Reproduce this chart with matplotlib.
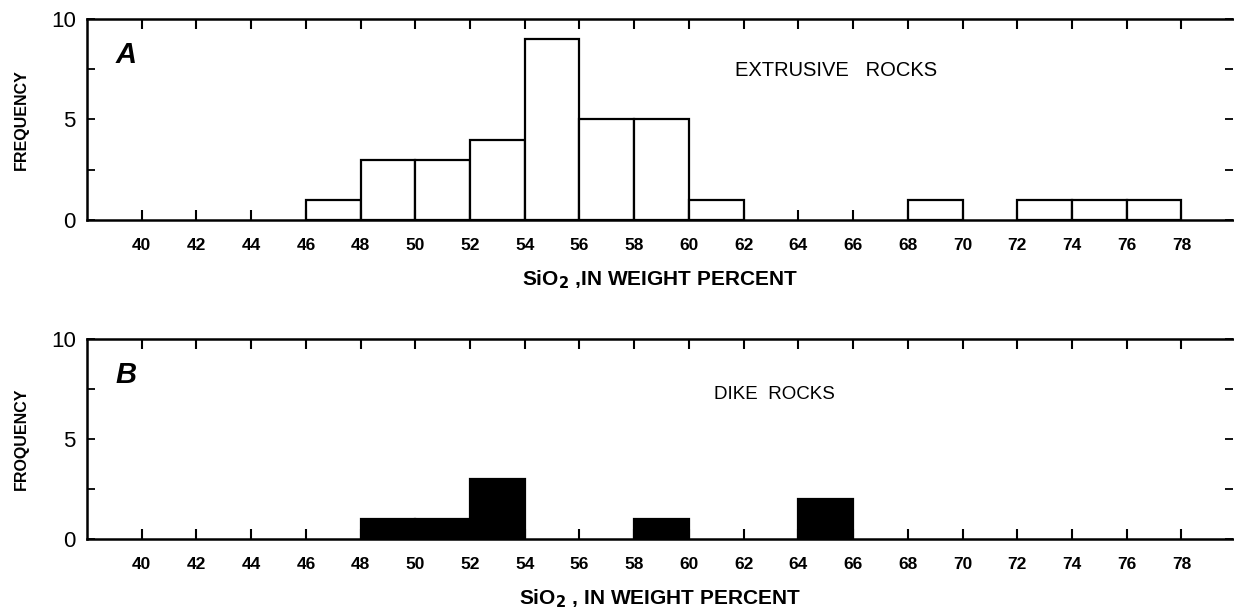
import numpy as np
import matplotlib
matplotlib.use("Agg")
import matplotlib.pyplot as plt

plt.rcParams['font.family'] = ['Liberation Sans', 'DejaVu Sans']

# bin left edges (SiO2 wt %), bin width 2
bin_edges = list(range(40, 80, 2))
extrusive_counts = [0, 0, 0, 1, 3, 3, 4, 9, 5, 5, 1, 0, 0, 0, 1, 0, 1, 1, 1, 0]
dike_counts = [0, 0, 0, 0, 1, 1, 3, 0, 0, 1, 0, 0, 2, 0, 0, 0, 0, 0, 0, 0]
tick_values = list(range(40, 80, 2))
panel_letters = ['A', 'B']
panel_titles = ['EXTRUSIVE   ROCKS', 'DIKE  ROCKS']
y_labels = ['FREQUENCY', 'FROQUENCY']
x_labels = ['SiO$_\\mathbf{2}$ ,IN WEIGHT PERCENT', 'SiO$_\\mathbf{2}$ , IN WEIGHT PERCENT']

fig = plt.figure(figsize=(12.34, 6.11), dpi=100)
ax_a = fig.add_axes([0.0705, 0.640, 0.929, 0.329])
ax_b = fig.add_axes([0.0705, 0.118, 0.929, 0.327])


def draw_panel(ax, counts, filled, letter, title, ylab, xlab, title_x, title_y, title_size):
    lefts = [e for e, c in zip(bin_edges, counts) if c > 0]
    heights = [c for c in counts if c > 0]
    ax.bar(lefts, heights, width=2, align='edge',
           color='black' if filled else 'white', edgecolor='black', linewidth=1.6)
    ax.set_xlim(38, 79.9)
    ax.set_ylim(0, 10)
    ax.set_xticks(tick_values)
    ax.set_xticklabels([str(t) for t in tick_values], fontsize=12.5, fontweight='bold')
    ax.set_yticks([0, 2.5, 5, 7.5, 10])
    ax.set_yticklabels(['0', '', '5', '', '10'], fontsize=16)
    ax.tick_params(axis='x', direction='in', length=7, width=1.5, top=True, pad=13)
    ax.tick_params(axis='y', direction='in', length=6, width=1.3, right=True, pad=8)
    for s in ['left', 'bottom', 'top']:
        ax.spines[s].set_linewidth(1.8)
    ax.spines['right'].set_visible(False)
    ax.set_ylabel(ylab, fontsize=11.5, fontweight='bold', labelpad=16)
    ax.set_xlabel(xlab, fontsize=15, fontweight='bold', labelpad=11)
    ax.text(0.025, 0.78, letter, transform=ax.transAxes, fontsize=21,
            fontweight='bold', fontstyle='italic')
    ax.text(title_x, title_y, title, transform=ax.transAxes, fontsize=title_size)


draw_panel(ax_a, extrusive_counts, False, panel_letters[0], panel_titles[0],
           y_labels[0], x_labels[0], 0.565, 0.715, 14.5)
draw_panel(ax_b, dike_counts, True, panel_letters[1], panel_titles[1],
           y_labels[1], x_labels[1], 0.547, 0.70, 13.5)

fig.savefig('out.png', dpi=100)
